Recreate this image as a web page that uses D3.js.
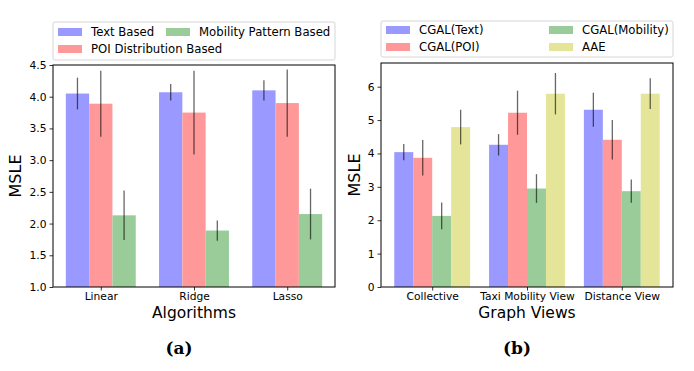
<!DOCTYPE html>
<html>
<head>
<meta charset="utf-8">
<script src="https://cdn.jsdelivr.net/npm/d3@7"></script>
<style>
  body { margin: 0; background: #fff; }
  svg text { font-family: "DejaVu Sans", sans-serif; fill: #000; }
</style>
</head>
<body>
<svg id="chart" width="694" height="371"></svg>
<script>
// left panel (a)
var algorithms = ["Linear", "Ridge", "Lasso"];
var seriesA = ["Text Based", "POI Distribution Based", "Mobility Pattern Based"];
var textBased = [4.05, 4.07, 4.10];
var textBasedErr = [0.25, 0.13, 0.16];
var poiBased = [3.89, 3.75, 3.90];
var poiBasedErr = [0.52, 0.66, 0.53];
var mobilityBased = [2.13, 1.89, 2.15];
var mobilityBasedErr = [0.39, 0.16, 0.40];
var ticksA = [1.0, 1.5, 2.0, 2.5, 3.0, 3.5, 4.0, 4.5];

// right panel (b)
var views = ["Collective", "Taxi Mobility View", "Distance View"];
var seriesB = ["CGAL(Text)", "CGAL(POI)", "CGAL(Mobility)", "AAE"];
var cgalText = [4.04, 4.26, 5.31];
var cgalTextErr = [0.24, 0.32, 0.51];
var cgalPoi = [3.87, 5.22, 4.41];
var cgalPoiErr = [0.53, 0.66, 0.59];
var cgalMob = [2.13, 2.95, 2.87];
var cgalMobErr = [0.40, 0.43, 0.35];
var aae = [4.79, 5.79, 5.79];
var aaeErr = [0.52, 0.62, 0.46];
var ticksB = [0, 1, 2, 3, 4, 5, 6];

var colors = ["#9999ff", "#ff9999", "#99cc99", "#e5e599"];

var svg = d3.select("#chart");

function panel(opt) {
    var g = svg.append("g");
    var nS = opt.values.length, w = opt.barW;
    var span0 = -w / 2, span1 = (opt.cats.length - 1) + (nS - 1) * w + w / 2;
    var pad = (span1 - span0) * 0.05;
    var x = d3.scaleLinear().domain([span0 - pad, span1 + pad]).range([opt.left, opt.right]);
    var y = d3.scaleLinear().domain(opt.yDomain).range([opt.bottom, opt.top]);

    // bars
    opt.values.forEach(function(vals, s) {
        g.selectAll(null).data(vals).enter().append("rect")
            .attr("x", function(d, i) { return x(i + s * w - w / 2); })
            .attr("width", x(w) - x(0))
            .attr("y", function(d) { return y(d); })
            .attr("height", function(d) { return y(opt.yDomain[0]) - y(d); })
            .attr("fill", colors[s]);
    });
    // error bars
    opt.values.forEach(function(vals, s) {
        g.selectAll(null).data(vals).enter().append("line")
            .attr("x1", function(d, i) { return x(i + s * w); })
            .attr("x2", function(d, i) { return x(i + s * w); })
            .attr("y1", function(d, i) { return y(d - opt.errs[s][i]); })
            .attr("y2", function(d, i) { return y(d + opt.errs[s][i]); })
            .attr("stroke", "rgba(0,0,0,0.6)")
            .attr("stroke-width", 1.3);
    });

    // axes
    var xAxis = d3.axisBottom(x)
        .tickValues(opt.cats.map(function(c, i) { return i + (nS - 1) * w / 2; }))
        .tickFormat(function(d, i) { return opt.cats[i]; })
        .tickSizeOuter(0).tickSize(3.5).tickPadding(2);
    var gx = g.append("g").attr("transform", "translate(0," + opt.bottom + ")").call(xAxis);
    var yAxis = d3.axisLeft(y).tickValues(opt.yTicks).tickFormat(opt.fmt)
        .tickSizeOuter(0).tickSize(3.5).tickPadding(3);
    var gy = g.append("g").attr("transform", "translate(" + opt.left + ",0)").call(yAxis);
    [gx, gy].forEach(function(a) {
        a.select(".domain").remove();
        a.selectAll("text").style("font-size", "10.7px").attr("fill", "#000");
        a.selectAll("line").attr("stroke", "#000").attr("stroke-width", 0.8);
    });

    g.append("rect")
        .attr("x", opt.left).attr("y", opt.top)
        .attr("width", opt.right - opt.left).attr("height", opt.bottom - opt.top)
        .attr("fill", "none").attr("stroke", "#000").attr("stroke-width", 1);

    // labels
    g.append("text").attr("x", (opt.left + opt.right) / 2).attr("y", opt.bottom + 31)
        .attr("text-anchor", "middle").style("font-size", "15.5px").text(opt.xLabel);
    g.append("text")
        .attr("transform", "translate(" + opt.yLabelX + "," + (opt.top + opt.bottom) / 2 + ") rotate(-90)")
        .attr("text-anchor", "middle").style("font-size", "16px").text("MSLE");
    g.append("text").attr("x", opt.capX).attr("y", 354)
        .attr("text-anchor", "middle")
        .style("font-family", "'DejaVu Serif', serif").style("font-weight", "bold").style("font-size", "17px")
        .text(opt.caption);

    // legend
    var lg = g.append("g");
    lg.append("rect").attr("x", opt.legend.x).attr("y", opt.legend.y)
        .attr("width", opt.legend.w).attr("height", opt.legend.h).attr("rx", 2)
        .attr("fill", "#fff").attr("stroke", "#ccc").attr("stroke-width", 0.8);
    opt.legend.items.forEach(function(it) {
        lg.append("rect").attr("x", it.x).attr("y", it.y - 4).attr("width", 24).attr("height", 8)
            .attr("fill", colors[it.s]);
        lg.append("text").attr("x", it.x + opt.legend.gap).attr("y", it.y + 4)
            .style("font-size", "11.7px").text(opt.series[it.s]);
    });
}

panel({
    cats: algorithms, series: seriesA,
    values: [textBased, poiBased, mobilityBased],
    errs: [textBasedErr, poiBasedErr, mobilityBasedErr],
    barW: 0.25, left: 53, right: 335, top: 65, bottom: 287,
    yDomain: [1.0, 4.5], yTicks: ticksA, fmt: d3.format(".1f"),
    xLabel: "Algorithms", yLabelX: 21, caption: "(a)", capX: 179,
    legend: { x: 53, y: 22, w: 282, h: 38, gap: 33,
        items: [{ s: 0, x: 58, y: 32 }, { s: 2, x: 166, y: 32 }, { s: 1, x: 58, y: 49 }] }
});

panel({
    cats: views, series: seriesB,
    values: [cgalText, cgalPoi, cgalMob, aae],
    errs: [cgalTextErr, cgalPoiErr, cgalMobErr, aaeErr],
    barW: 0.2, left: 381, right: 673, top: 63, bottom: 287,
    yDomain: [0, 6.71], yTicks: ticksB, fmt: d3.format("d"),
    xLabel: "Graph Views", yLabelX: 360, caption: "(b)", capX: 517,
    legend: { x: 381, y: 21, w: 292, h: 36, gap: 33,
        items: [{ s: 0, x: 386, y: 30 }, { s: 1, x: 386, y: 47 }, { s: 2, x: 549, y: 30 }, { s: 3, x: 549, y: 47 }] }
});
</script>
</body>
</html>
